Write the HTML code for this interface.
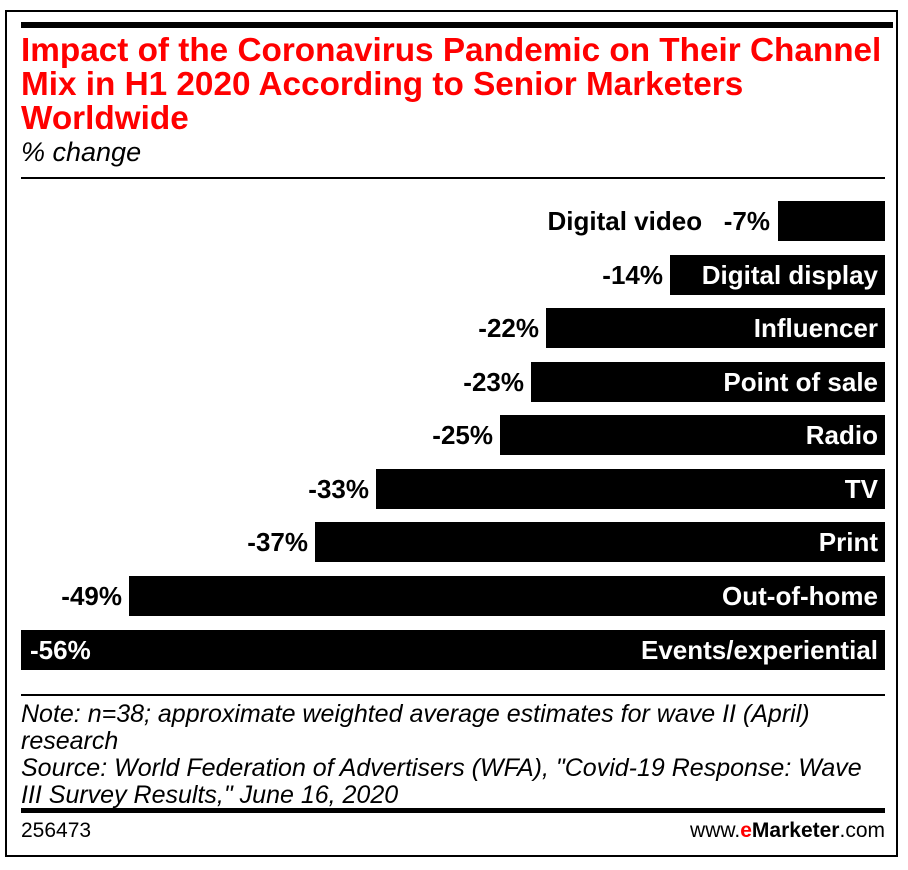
<!DOCTYPE html>
<html><head><style>
body{margin:0;width:908px;height:870px;background:#fff;position:relative;font-family:"Liberation Sans Narrow","Liberation Sans",sans-serif;overflow:hidden}
.a{position:absolute;white-space:nowrap}
.bar{position:absolute;background:#000;height:40px;right:23px}
.lab{position:absolute;font-weight:bold;font-size:26px;line-height:40px;white-space:nowrap}
.in{color:#fff;right:30px}
</style></head><body>
<div class="a" style="left:5px;top:10px;width:889px;height:843px;border:2px solid #000"></div>
<div class="a" style="left:21px;top:22px;width:872px;height:6px;background:#000"></div>
<div class="a" style="left:21px;top:34px;color:#f00;font-weight:bold;font-size:33.3px;line-height:34px">Impact of the Coronavirus Pandemic on Their Channel<br>Mix in H1 2020 According to Senior Marketers<br>Worldwide</div>
<div class="a" style="left:21px;top:137px;font-style:italic;font-size:27px">% change</div>
<div class="a" style="left:21px;top:177px;width:864px;height:2px;background:#000"></div>

<div class="bar" style="top:201px;left:778px"></div>
<div class="lab" style="top:201px;right:138px">Digital video&nbsp;&nbsp;&nbsp;-7%</div>
<div class="bar" style="top:255px;left:670px"></div>
<div class="lab" style="top:255px;right:245px">-14%</div><div class="lab in" style="top:255px">Digital display</div>
<div class="bar" style="top:308px;left:546px"></div>
<div class="lab" style="top:308px;right:369px">-22%</div><div class="lab in" style="top:308px">Influencer</div>
<div class="bar" style="top:362px;left:531px"></div>
<div class="lab" style="top:362px;right:384px">-23%</div><div class="lab in" style="top:362px">Point of sale</div>
<div class="bar" style="top:415px;left:500px"></div>
<div class="lab" style="top:415px;right:415px">-25%</div><div class="lab in" style="top:415px">Radio</div>
<div class="bar" style="top:469px;left:376px"></div>
<div class="lab" style="top:469px;right:539px">-33%</div><div class="lab in" style="top:469px">TV</div>
<div class="bar" style="top:522px;left:315px"></div>
<div class="lab" style="top:522px;right:600px">-37%</div><div class="lab in" style="top:522px">Print</div>
<div class="bar" style="top:576px;left:129px"></div>
<div class="lab" style="top:576px;right:786px">-49%</div><div class="lab in" style="top:576px">Out-of-home</div>
<div class="bar" style="top:630px;left:21px"></div>
<div class="lab" style="top:630px;left:30px;color:#fff">-56%</div><div class="lab in" style="top:630px">Events/experiential</div>

<div class="a" style="left:21px;top:694px;width:864px;height:2px;background:#000"></div>
<div class="a" style="left:21px;top:701px;font-style:italic;font-size:25px;line-height:27px">Note: n=38; approximate weighted average estimates for wave II (April)<br>research<br>Source: World Federation of Advertisers (WFA), "Covid-19 Response: Wave<br>III Survey Results," June 16, 2020</div>
<div class="a" style="left:21px;top:808px;width:864px;height:5px;background:#000"></div>
<div class="a" style="left:21px;top:819px;font-size:21px">256473</div>
<div class="a" style="right:23px;top:819px;font-size:21px">www.<b style="color:#f00">e</b><b>Marketer</b>.com</div>
</body></html>
